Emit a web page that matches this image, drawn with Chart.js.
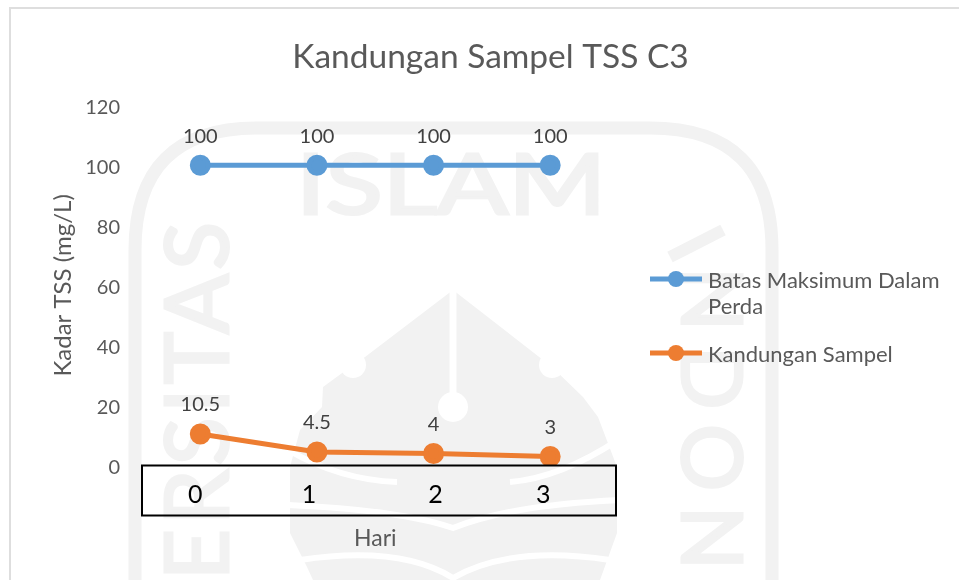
<!DOCTYPE html>
<html>
<head>
<meta charset="utf-8">
<title>Kandungan Sampel TSS C3</title>
<script src="https://cdn.jsdelivr.net/npm/chart.js@4"></script>
<style>
  html, body { margin: 0; padding: 0; background: #fff; }
  #page { position: relative; width: 959px; height: 580px; overflow: hidden; }
  #mark, #chart { position: absolute; left: 0; top: 0; }
</style>
</head>
<body>
<div id="page">
  <!-- faint logo behind the chart -->
  <svg id="mark" width="959" height="580" font-family="Lato, sans-serif" fill="#f2f2f2" stroke="#f2f2f2" stroke-width="3">
    <path d="M135 580 V250 Q135 128 257 128 H650 Q772 128 772 250 V580" fill="none" stroke-width="13"/>
    <text x="451" y="214" font-size="84" text-anchor="middle" textLength="310" lengthAdjust="spacingAndGlyphs">ISLAM</text>
    <text transform="translate(228,580) rotate(-90)" font-size="88" textLength="358" lengthAdjust="spacing">ERSITAS</text>
    <text transform="translate(682,267) rotate(90)" font-size="84" textLength="303" lengthAdjust="spacing">NDON</text>
    <path d="M670 257 L723 230" fill="none" stroke-width="12"/>
    <path d="M453 290 L365 357 L353 365 L323 387 L322 407 L300 430 L290 467 V533 L307 567 L313 580 H600 L617 533 V467 L598 417 L583 397 L552 367 Z" stroke="none"/>
    <path d="M453 275 V400" stroke="#fff" stroke-width="7"/>
    <circle cx="453" cy="407" r="15" fill="#fff" stroke="none"/>
    <circle cx="353" cy="365" r="13" fill="#fff" stroke="none"/>
    <circle cx="552" cy="365" r="13" fill="#fff" stroke="none"/>
    <path d="M288 505 Q400 510 453 528 Q510 505 620 500 M288 450 Q340 480 397 482 M618 440 Q560 478 510 482 M300 560 Q400 545 453 578 Q510 545 610 560" fill="none" stroke="#fff" stroke-width="6"/>
    <path d="M10 580 V8 H959" fill="none" stroke="#dedede" stroke-width="2"/>
  </svg>
  <canvas id="chart" width="959" height="580"></canvas>
</div>
<script>
const hari = ['0', '1', '2', '3'];
const batasMaksimum = [100, 100, 100, 100];
const kandunganSampel = [10.5, 4.5, 4, 3];
const pointLabels = [['100', '100', '100', '100'], ['10.5', '4.5', '4', '3']];
const yTicks = [0, 20, 40, 60, 80, 100, 120];
// the day numbers sit in a text box pasted over the axis, slightly off the ticks
const boxLabelShift = [-5, -8, 2, -7];

const FONT = 'Lato, sans-serif';
const GREY = '#595959';

const overlayPlugin = {
  id: 'overlay',
  afterDatasetsDraw(chart) {
    const ctx = chart.ctx;
    const xScale = chart.scales.x;
    ctx.save();

    // value labels above the points
    ctx.font = '20px ' + FONT;
    ctx.fillStyle = '#404040';
    ctx.textAlign = 'center';
    ctx.textBaseline = 'middle';
    chart.data.datasets.forEach((ds, i) => {
      chart.getDatasetMeta(i).data.forEach((pt, j) => {
        ctx.fillText(pointLabels[i][j], pt.x, pt.y - 29);
      });
    });

    // box over the axis
    ctx.strokeStyle = '#000';
    ctx.lineWidth = 2;
    ctx.strokeRect(142, 465.5, 474, 50);
    ctx.font = '25px ' + FONT;
    ctx.fillStyle = '#000';
    hari.forEach((h, i) => {
      ctx.fillText(h, xScale.getPixelForValue(i) + boxLabelShift[i], 495);
    });

    // legend, wrapped like the original
    const rows = [
      { lines: ['Batas Maksimum Dalam', 'Perda'], y: 279 },
      { lines: ['Kandungan Sampel'], y: 353 }
    ];
    ctx.textAlign = 'left';
    ctx.font = '22px ' + FONT;
    rows.forEach((row, i) => {
      const color = chart.data.datasets[i].borderColor;
      ctx.strokeStyle = color;
      ctx.lineWidth = 5;
      ctx.beginPath();
      ctx.moveTo(650, row.y);
      ctx.lineTo(702, row.y);
      ctx.stroke();
      ctx.fillStyle = color;
      ctx.beginPath();
      ctx.arc(676, row.y, 8, 0, Math.PI * 2);
      ctx.fill();
      ctx.fillStyle = GREY;
      row.lines.forEach((line, k) => {
        ctx.fillText(line, 708, row.y + 2 + k * 26);
      });
    });
    ctx.restore();
  }
};

new Chart(document.getElementById('chart'), {
  type: 'line',
  data: {
    labels: hari,
    datasets: [
      {
        label: 'Batas Maksimum Dalam Perda',
        data: batasMaksimum,
        borderColor: '#5B9BD5',
        backgroundColor: '#5B9BD5',
        borderWidth: 5,
        pointRadius: 8,
        pointHoverRadius: 8,
        tension: 0
      },
      {
        label: 'Kandungan Sampel',
        data: kandunganSampel,
        borderColor: '#ED7D31',
        backgroundColor: '#ED7D31',
        borderWidth: 5,
        pointRadius: 8,
        pointHoverRadius: 8,
        tension: 0
      }
    ]
  },
  options: {
    responsive: false,
    animation: false,
    layout: { padding: { left: 22, right: 0, top: 0, bottom: 0 } },
    plugins: {
      legend: { display: false },
      tooltip: { enabled: false },
      title: {
        display: true,
        text: 'Kandungan Sampel TSS C3',
        color: GREY,
        font: { family: FONT, size: 33.5, weight: 'normal' },
        padding: { top: 37, bottom: 28 }
      }
    },
    scales: {
      x: {
        offset: true,
        afterFit(s) { s.height = 114.5; },
        grid: { display: false },
        border: { display: false },
        ticks: { display: false },
        title: {
          display: true,
          text: 'Hari',
          color: GREY,
          font: { family: FONT, size: 23 },
          padding: { top: 0, bottom: 28 }
        }
      },
      y: {
        min: 0,
        max: 120,
        afterFit(s) { s.width = 120; },
        afterBuildTicks(s) { s.ticks = yTicks.map(v => ({ value: v })); },
        grid: { display: false },
        border: { display: false },
        ticks: {
          color: GREY,
          font: { family: FONT, size: 20 },
          padding: 14,
          labelOffset: 2
        },
        title: {
          display: true,
          text: 'Kadar TSS (mg/L)',
          color: GREY,
          font: { family: FONT, size: 24 },
          padding: { top: 27, bottom: 0 }
        }
      },
      // empty axis that only holds the room for the legend on the right
      legendRoom: {
        position: 'right',
        afterFit(s) { s.width = 350.5; },
        grid: { display: false },
        border: { display: false },
        ticks: { display: false }
      }
    }
  },
  plugins: [overlayPlugin]
});
</script>
</body>
</html>
